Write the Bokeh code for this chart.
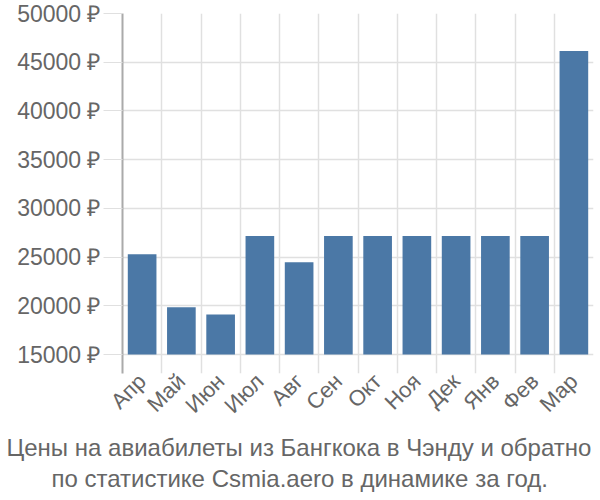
import math
from bokeh.plotting import figure
from bokeh.models import Range1d, FixedTicker, Title
from bokeh.embed import file_html
from bokeh.resources import INLINE

months = ["Апр", "Май", "Июн", "Июл", "Авг", "Сен", "Окт", "Ноя", "Дек", "Янв", "Фев", "Мар"]
prices = [25300, 19860, 19110, 27160, 24480, 27160, 27160, 27160, 27160, 27160, 27160, 46160]
y_ticks = [15000, 20000, 25000, 30000, 35000, 40000, 45000, 50000]
title_lines = ["Цены на авиабилеты из Бангкока в Чэнду и обратно",
               "по статистике Csmia.aero в динамике за год."]

FONT = "Liberation Sans"
GRAY = "#666666"
GRID = "#e0e0e0"

n = len(months)
centers = [i + 0.5 for i in range(n)]

p = figure(width=600, height=500, output_backend="svg", toolbar_location=None,
           x_range=Range1d(0, n), y_range=Range1d(13050, 50000),
           min_border_left=122, min_border_right=7, min_border_top=13, min_border_bottom=127)
p.outline_line_color = None
p.background_fill_color = "white"

p.vbar(x=centers, top=prices, bottom=15000, width=0.73, fill_color="#4b78a6", line_color=None)

# y axis
p.yaxis.ticker = FixedTicker(ticks=y_ticks)
p.yaxis.major_label_overrides = {t: f"{t} ₽" for t in y_ticks}
p.yaxis.major_label_text_font = FONT
p.yaxis.major_label_text_font_size = "23px"
p.yaxis.major_label_text_color = GRAY
p.yaxis.major_tick_out = 19
p.yaxis.major_tick_in = 0
p.yaxis.major_tick_line_color = GRID
p.yaxis.minor_tick_line_color = None
p.yaxis.axis_line_color = "#aaaaaa"
p.yaxis.axis_line_width = 2
p.yaxis.major_label_standoff = 3

# x axis
p.xaxis.ticker = FixedTicker(ticks=centers)
p.xaxis.major_label_overrides = {c: m for c, m in zip(centers, months)}
p.xaxis.major_label_orientation = math.pi / 4
p.xaxis.major_label_text_font = FONT
p.xaxis.major_label_text_font_size = "22px"
p.xaxis.major_label_text_color = GRAY
p.xaxis.axis_line_color = None
p.xaxis.major_tick_line_color = None
p.xaxis.minor_tick_line_color = None
p.xaxis.major_label_standoff = -2

p.xgrid.ticker = FixedTicker(ticks=list(range(n + 1)))
p.xgrid.grid_line_color = GRID
p.xgrid.grid_line_width = 1.5
p.ygrid.ticker = FixedTicker(ticks=y_ticks)
p.ygrid.grid_line_color = GRID
p.ygrid.grid_line_width = 1.5

offsets = [-116, -71]
standoffs = [4, 0]
for line, off, so in zip(title_lines, offsets, standoffs):
    t = Title(text=line, align="left", offset=off, text_font=FONT, text_font_size="24px",
              text_color=GRAY, text_font_style="normal", standoff=so)
    p.add_layout(t, "below")

open("out.html", "w").write(file_html(p, INLINE))
